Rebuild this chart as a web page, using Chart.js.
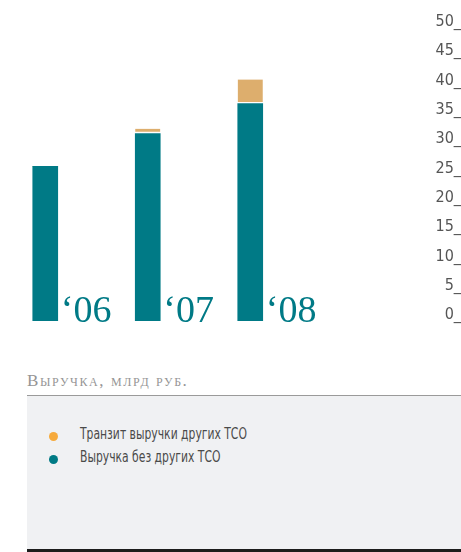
<!DOCTYPE html>
<html>
<head>
<meta charset="utf-8">
<script src="https://cdn.jsdelivr.net/npm/chart.js@4/dist/chart.umd.min.js"></script>
<style>
    body { margin: 0; width: 461px; height: 552px; background: #fff; overflow: hidden; position: relative; }
    #wrap { position: absolute; left: -6px; top: 0; width: 467px; height: 340px; }
    #title { position: absolute; left: 27px; top: 371px; font: 17px "Liberation Serif", serif; font-variant: small-caps; letter-spacing: 1.6px; color: #959595; }
    #rule { position: absolute; left: 27px; top: 395px; width: 434px; height: 1px; background: #9a9a9a; }
    #box { position: absolute; left: 27px; top: 396px; width: 434px; height: 153px; background: #f0f1f3; border-bottom: 3px solid #1c1c1c; }
    #legend { list-style: none; margin: 0; padding: 0; position: absolute; left: 0; top: 29px; }
    #legend li { position: relative; height: 23px; line-height: 23px; padding-left: 53px; font: 15px "DejaVu Sans Condensed", sans-serif; color: #4a4a4a; }
    #legend li b { display: inline-block; font-weight: normal; transform: scaleX(0.8); transform-origin: left center; white-space: nowrap; }
    #legend span { position: absolute; left: 22px; top: 7px; width: 9px; height: 9px; border-radius: 50%; }
</style>
</head>
<body>
<div id="wrap"><canvas id="chart" width="467" height="340"></canvas></div>
<div id="title">Выручка, млрд руб.</div>
<div id="rule"></div>
<div id="box"><ul id="legend"></ul></div>
<script>
var years = ['‘06', '‘07', '‘08'];
var revenue = [26.4, 32.0, 37.1];
var transit = [0, 0.8, 4.1];
var yTicks = [0, 50, 5];

var teal = '#007a86';

// year labels drawn next to each bar, in the bar colour
var yearLabels = {
    id: 'yearLabels',
    afterDatasetsDraw: function(chart){
        var ctx = chart.ctx;
        var bars = chart.getDatasetMeta(0).data;
        var y0 = chart.scales.y.getPixelForValue(0);
        ctx.save();
        ctx.fillStyle = teal;
        ctx.font = '38px "Liberation Serif", serif';
        ctx.textBaseline = 'alphabetic';
        ctx.textAlign = 'left';
        for (var i = 0; i < bars.length; i++) {
            ctx.fillText(chart.data.labels[i], bars[i].x + bars[i].width / 2 + 3, y0 + 1);
        }
        ctx.restore();
    }
};

var ctx = document.getElementById('chart').getContext('2d');
var myChart = new Chart(ctx, {
    type: 'bar',
    data: {
        labels: years,
        datasets: [{
            label: 'Выручка без других ТСО',
            data: revenue,
            backgroundColor: teal,
            legendColor: '#007a85',
            barThickness: 25
        }, {
            label: 'Транзит выручки других ТСО',
            data: transit,
            backgroundColor: '#ddae6d',
            legendColor: '#f6aa3c',
            borderColor: '#ffffff',
            borderWidth: {top: 0, left: 0, right: 0, bottom: 2},
            borderSkipped: false,
            barThickness: 25
        }]
    },
    options: {
        responsive: false,
        animation: false,
        layout: { padding: { top: 28, bottom: 19, left: 0, right: 0 } },
        plugins: { legend: { display: false }, tooltip: { enabled: false } },
        scales: {
            x: { stacked: true, display: false },
            y: {
                stacked: true,
                position: 'right',
                min: yTicks[0],
                max: yTicks[1],
                // invisible tick length pushes the labels out to the right edge
                grid: { display: false, drawTicks: true, tickLength: 134 },
                border: { display: false },
                ticks: {
                    stepSize: yTicks[2],
                    padding: 0,
                    crossAlign: 'far',
                    labelOffset: -6,
                    color: '#555',
                    font: { family: '"DejaVu Sans Condensed", sans-serif', size: 16 },
                    callback: function(v){ return v + '_'; }
                }
            }
        }
    },
    plugins: [yearLabels]
});

// html legend, transit first as in the report
var list = document.getElementById('legend');
myChart.data.datasets.slice().reverse().forEach(function(ds){
    var li = document.createElement('li');
    var dot = document.createElement('span');
    var txt = document.createElement('b');
    dot.style.background = ds.legendColor;
    txt.textContent = ds.label;
    li.appendChild(dot);
    li.appendChild(txt);
    list.appendChild(li);
});
</script>
</body>
</html>
